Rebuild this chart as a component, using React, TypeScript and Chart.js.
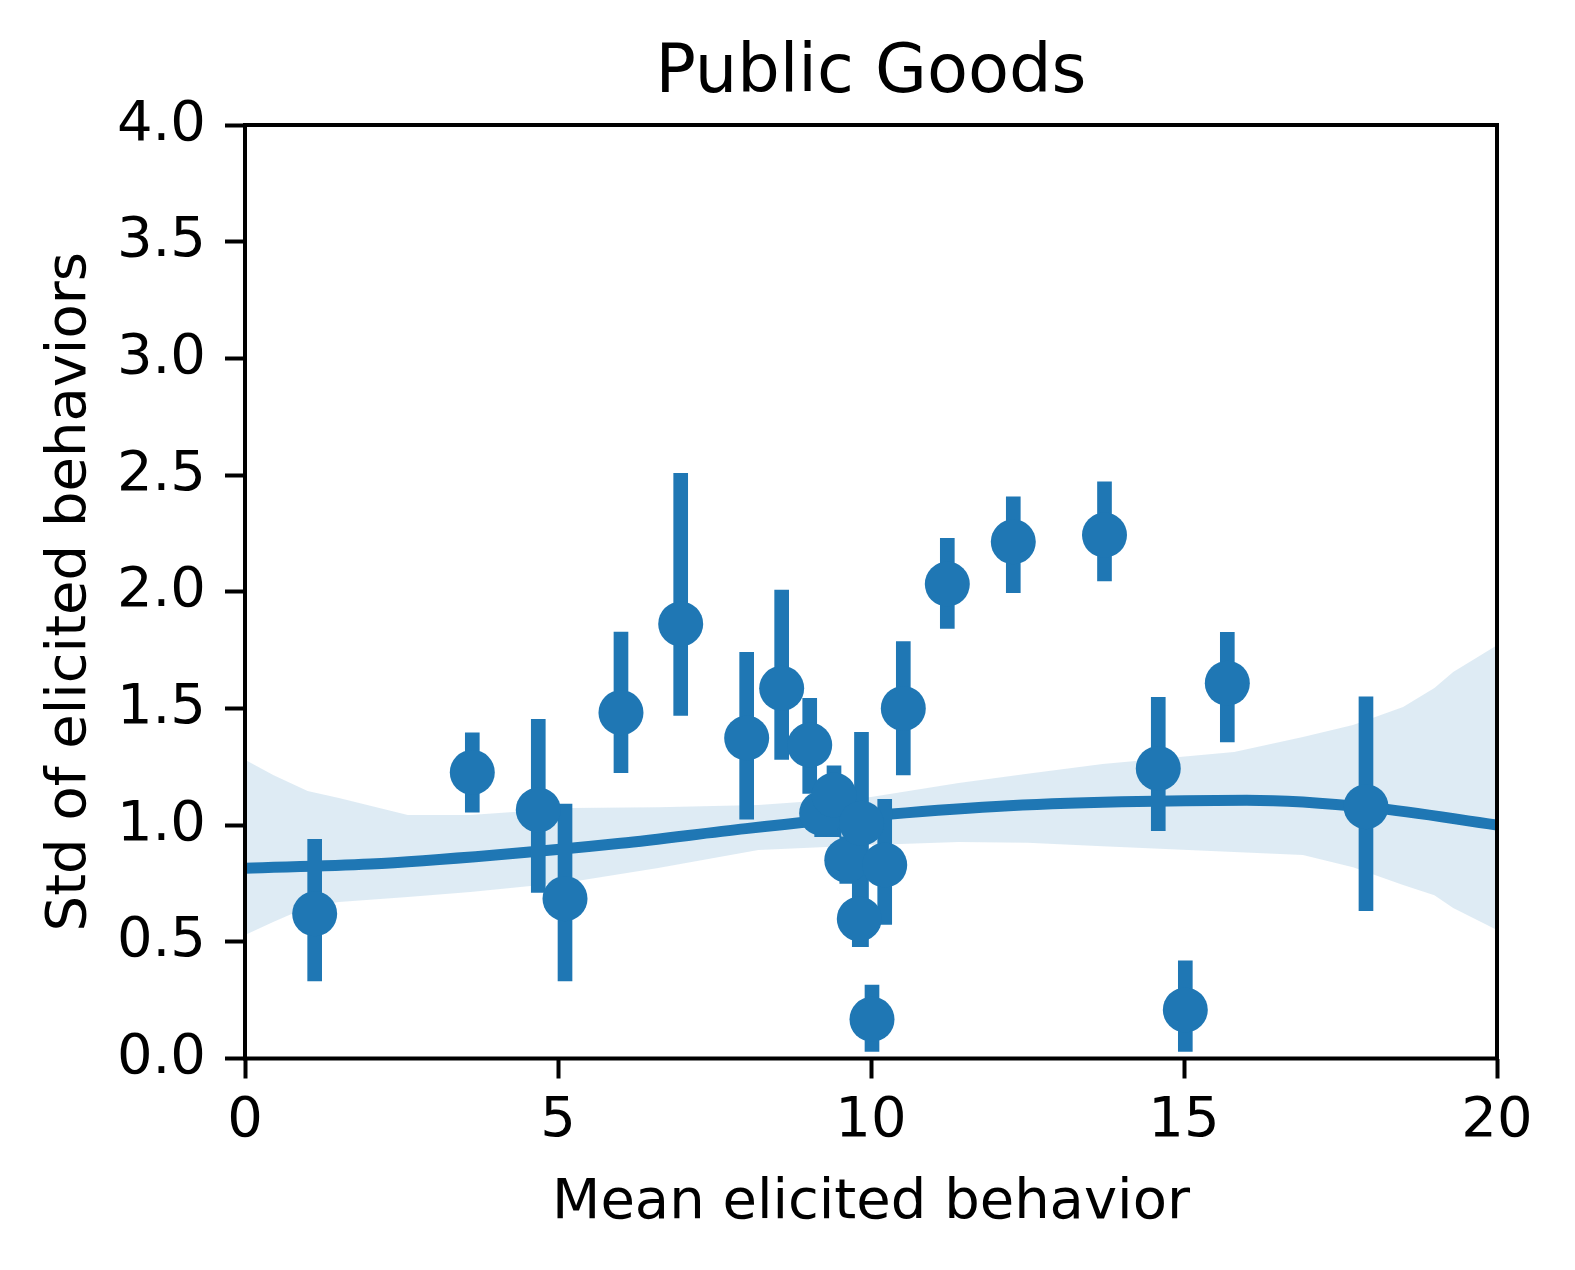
import React, { useEffect, useRef } from "react";
import { Chart, registerables } from "chart.js";

Chart.register(...registerables);

// ---- Data ----
const pointX = [1.113, 3.631, 4.685, 5.112, 6.006, 6.96, 8.014, 8.573, 9.021, 9.212, 9.409, 9.613, 9.848, 9.813, 10.016, 10.219, 10.516, 11.219, 12.273, 13.73, 14.589, 15.021, 15.692, 17.907];
const pointY = [0.62, 1.226, 1.065, 0.685, 1.482, 1.862, 1.373, 1.586, 1.343, 1.051, 1.129, 0.85, 1.008, 0.598, 0.168, 0.829, 1.5, 2.033, 2.214, 2.243, 1.243, 0.208, 1.608, 1.079];
const errLow = [0.332, 1.055, 0.712, 0.332, 1.225, 1.47, 1.026, 1.282, 1.136, 0.95, 0.95, 0.75, 0.479, 0.479, 0.03, 0.575, 1.215, 1.843, 1.996, 2.046, 0.976, 0.03, 1.357, 0.633];
const errHigh = [0.939, 1.396, 1.453, 1.09, 1.827, 2.507, 1.74, 2.007, 1.543, 1.15, 1.254, 0.95, 1.398, 0.82, 0.315, 1.111, 1.786, 2.229, 2.407, 2.471, 1.548, 0.419, 1.826, 1.55];

const fitX = [0, 2, 4, 6, 8, 10, 12, 14, 16, 18, 20];
const fitY = [0.815, 0.833, 0.872, 0.922, 0.985, 1.04, 1.08, 1.1, 1.107, 1.075, 1.0];

const bandX = [0, 0.45, 1, 1.5, 2.6, 3.6, 5.2, 6.6, 8.2, 10, 11.4, 12.5, 13.7, 15.8, 16.9, 17.7, 18.5, 19.0, 19.3, 20];
const bandUpper = [1.28, 1.215, 1.146, 1.116, 1.043, 1.043, 1.073, 1.077, 1.086, 1.12, 1.18, 1.22, 1.262, 1.313, 1.378, 1.429, 1.506, 1.588, 1.656, 1.771];
const bandLower = [0.529, 0.585, 0.649, 0.671, 0.692, 0.713, 0.756, 0.816, 0.893, 0.915, 0.928, 0.925, 0.91, 0.885, 0.872, 0.82, 0.743, 0.7, 0.645, 0.551];

const xTicks = [0, 5, 10, 15, 20];
const yTicks = [0, 0.5, 1.0, 1.5, 2.0, 2.5, 3.0, 3.5, 4.0];

const titleText = "Public Goods";
const xLabel = "Mean elicited behavior";
const yLabel = "Std of elicited behaviors";

const BLUE = "#1f77b4";
const FONT = "'DejaVu Sans', 'Liberation Sans', sans-serif";

export default function App() {
  const ref = useRef<HTMLCanvasElement>(null);

  useEffect(() => {
    document.body.style.margin = "0";
    if (!ref.current) return;

    const framePlugin = {
      id: "mplFrame",
      afterDraw(chart: any) {
        const { ctx, chartArea: a } = chart;
        ctx.save();
        ctx.strokeStyle = "#000";
        ctx.lineWidth = 4;
        ctx.strokeRect(a.left, a.top, a.right - a.left, a.bottom - a.top);
        ctx.fillStyle = "#000";
        ctx.textAlign = "center";
        ctx.textBaseline = "alphabetic";
        ctx.font = `67px ${FONT}`;
        ctx.fillText(titleText, (a.left + a.right) / 2, 92);
        ctx.font = `56px ${FONT}`;
        ctx.fillText(xLabel, (a.left + a.right) / 2, 1218);
        ctx.translate(85, (a.top + a.bottom) / 2);
        ctx.rotate(-Math.PI / 2);
        ctx.fillText(yLabel, 0, 0);
        ctx.restore();
      },
    };

    const tickFont = { family: FONT, size: 56 };
    const grid = {
      display: true,
      offset: false,
      drawOnChartArea: false,
      drawTicks: true,
      tickLength: 20,
      tickWidth: 4,
      tickColor: "#000",
    };

    const chart = new Chart(ref.current, {
      type: "scatter",
      data: {
        datasets: [
          {
            type: "line",
            data: bandX.map((x, i) => ({ x, y: bandUpper[i] })),
            borderColor: "rgba(0,0,0,0)",
            borderWidth: 0,
            pointRadius: 0,
            fill: false,
            order: 4,
          },
          {
            type: "line",
            data: bandX.map((x, i) => ({ x, y: bandLower[i] })),
            borderColor: "rgba(0,0,0,0)",
            borderWidth: 0,
            pointRadius: 0,
            fill: "-1",
            backgroundColor: "rgba(31,119,180,0.15)",
            order: 3,
          },
          {
            type: "line",
            data: fitX.map((x, i) => ({ x, y: fitY[i] })),
            borderColor: BLUE,
            borderWidth: 11,
            pointRadius: 0,
            fill: false,
            cubicInterpolationMode: "monotone",
            order: 2,
          },
          {
            type: "bar",
            data: pointX.map((x, i) => ({ x, y: [errLow[i], errHigh[i]] })),
            backgroundColor: BLUE,
            borderWidth: 0,
            barThickness: 14,
            order: 1,
          } as any,
          {
            type: "scatter",
            data: pointX.map((x, i) => ({ x, y: pointY[i] })),
            backgroundColor: BLUE,
            borderWidth: 0,
            pointRadius: 22.5,
            pointHoverRadius: 22.5,
            order: 0,
          },
        ],
      },
      options: {
        responsive: false,
        maintainAspectRatio: false,
        animation: false,
        devicePixelRatio: 1,
        events: [],
        layout: { padding: { top: 125, right: 78, bottom: 0, left: 0 } },
        plugins: {
          legend: { display: false },
          tooltip: { enabled: false },
          title: { display: false },
        },
        scales: {
          x: {
            type: "linear",
            min: 0,
            max: 20,
            offset: false,
            grid,
            border: { display: false },
            ticks: {
              font: tickFont,
              color: "#000",
              padding: 9,
              maxRotation: 0,
              autoSkip: false,
              callback: (v: any) => String(v),
            },
            afterBuildTicks: (s: any) => {
              s.ticks = xTicks.map((v) => ({ value: v }));
            },
            afterFit: (s: any) => {
              s.height = 211.5;
            },
          },
          y: {
            type: "linear",
            min: 0,
            max: 4,
            offset: false,
            grid,
            border: { display: false },
            ticks: {
              font: tickFont,
              color: "#000",
              padding: 19,
              autoSkip: false,
              callback: (v: any) => Number(v).toFixed(1),
            },
            afterBuildTicks: (s: any) => {
              s.ticks = yTicks.map((v) => ({ value: v }));
            },
            afterFit: (s: any) => {
              s.width = 245;
            },
          },
        },
      } as any,
      plugins: [framePlugin],
    } as any);

    return () => chart.destroy();
  }, []);

  return (
    <div style={{ width: 1575, height: 1270, background: "#fff" }}>
      <canvas ref={ref} width={1575} height={1270} style={{ display: "block" }} />
    </div>
  );
}
